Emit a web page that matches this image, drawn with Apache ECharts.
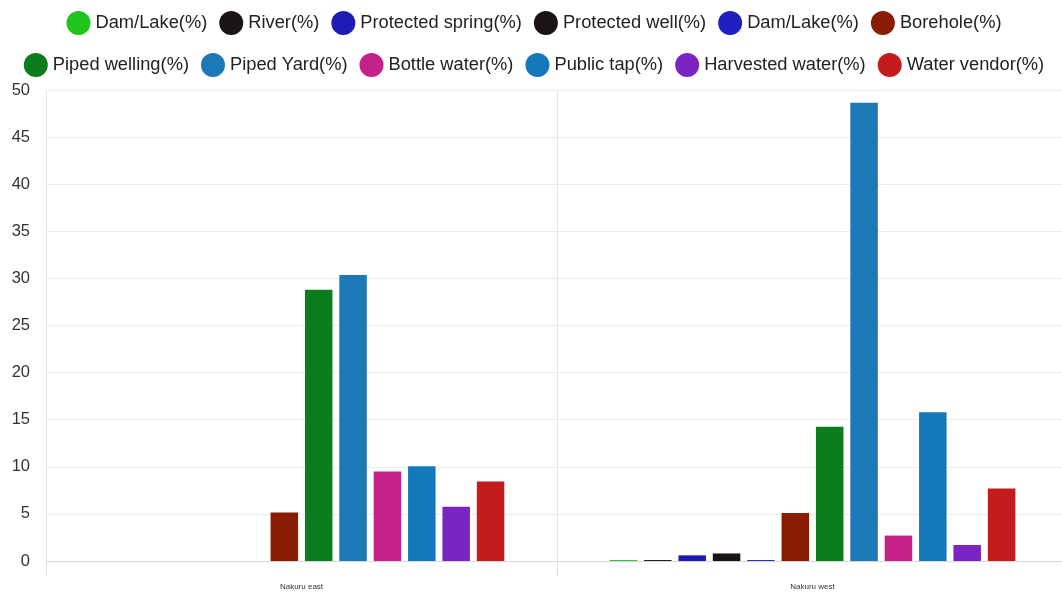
<!DOCTYPE html>
<html><head><meta charset="utf-8">
<script src="https://cdn.jsdelivr.net/npm/echarts@6/dist/echarts.min.js"></script>
<style>html,body{margin:0;padding:0;background:#fff;overflow:hidden}#c{width:1068px;height:595px}</style>
</head><body><div id="c"></div>
<script>
const categories = ['Nakuru east', 'Nakuru west'];
const seriesNames = ['Dam/Lake(%)', 'River(%)', 'Protected spring(%)', 'Protected well(%)', 'Dam/Lake(%)\u200b', 'Borehole(%)',
  'Piped welling(%)', 'Piped Yard(%)', 'Bottle water(%)', 'Public tap(%)', 'Harvested water(%)', 'Water vendor(%)'];
const damLake1 = [0, 0.1];
const river = [0, 0.1];
const protectedSpring = [0, 0.6];
const protectedWell = [0, 0.8];
const damLake2 = [0, 0.1];
const borehole = [5.15, 5.1];
const pipedWelling = [28.8, 14.25];
const pipedYard = [30.35, 48.65];
const bottleWater = [9.5, 2.7];
const publicTap = [10.05, 15.8];
const harvestedWater = [5.75, 1.7];
const waterVendor = [8.45, 7.7];
const yTicks = [0, 5, 10, 15, 20, 25, 30, 35, 40, 45, 50];

const values = [damLake1, river, protectedSpring, protectedWell, damLake2, borehole,
  pipedWelling, pipedYard, bottleWater, publicTap, harvestedWater, waterVendor];
const colors = ['#1fc41f', '#1b1416', '#1c1cb4', '#1b1416', '#2020c0', '#8a1c04',
  '#0b7d1c', '#1d78b8', '#c4228a', '#1479ba', '#7a24c2', '#c41c1c'];

const legendBase = {
  icon: 'circle', itemWidth: 24, itemHeight: 24, itemGap: 12,
  textStyle: { fontFamily: 'Liberation Sans', fontSize: 18.3, color: '#222' },
  formatter: n => n.replace('\u200b', ''),
  left: 'center'
};

const chart = echarts.init(document.getElementById('c'), null, { renderer: 'canvas' });
chart.setOption({
  animation: false,
  color: colors,
  legend: [
    Object.assign({}, legendBase, { top: 6, data: seriesNames.slice(0, 6) }),
    Object.assign({}, legendBase, { top: 48, data: seriesNames.slice(6) })
  ],
  grid: { left: 46, right: 0, top: 90, bottom: 34 },
  xAxis: {
    type: 'category', data: categories,
    axisLine: { show: true, lineStyle: { color: '#d8d8d8' } },
    axisTick: { show: true, length: 15, lineStyle: { color: '#e0e0e0' } },
    splitLine: { show: true, lineStyle: { color: '#e6e6e6' } },
    axisLabel: { fontFamily: 'Liberation Sans', fontSize: 8, color: '#333', margin: 22 }
  },
  yAxis: {
    type: 'value', min: yTicks[0], max: yTicks[yTicks.length - 1], interval: 5,
    axisLine: { show: false }, axisTick: { show: false },
    splitLine: { lineStyle: { color: '#ececec' } },
    axisLabel: { fontFamily: 'Liberation Sans', fontSize: 16.5, color: '#333', margin: 16 }
  },
  series: seriesNames.map((n, i) => ({
    name: n, type: 'bar', data: values[i],
    barWidth: 27.5, barGap: '25%',
    itemStyle: { color: colors[i] }
  }))
});
</script></body></html>
